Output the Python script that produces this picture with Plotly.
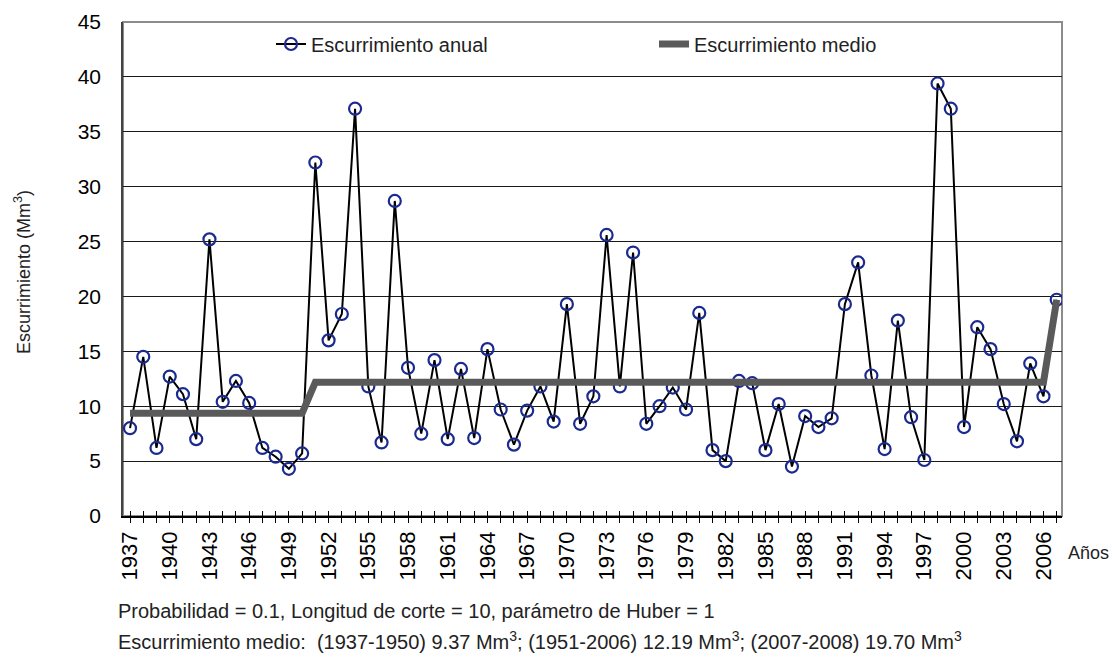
import plotly.graph_objects as go

# ---- data ----
years = list(range(1937, 2008))
escurrimiento_anual = [
    8.0, 14.5, 6.2, 12.7, 11.1, 7.0, 25.2, 10.4, 12.3, 10.3,   # 1937-1946
    6.2, 5.4, 4.3, 5.7, 32.2, 16.0, 18.4, 37.1, 11.8, 6.7,     # 1947-1956
    28.7, 13.5, 7.5, 14.2, 7.0, 13.4, 7.1, 15.2, 9.7, 6.5,     # 1957-1966
    9.6, 11.8, 8.6, 19.3, 8.4, 10.9, 25.6, 11.8, 24.0, 8.4,    # 1967-1976
    10.0, 11.7, 9.7, 18.5, 6.0, 5.0, 12.3, 12.1, 6.0, 10.2,    # 1977-1986
    4.5, 9.1, 8.1, 8.9, 19.3, 23.1, 12.8, 6.1, 17.8, 9.0,      # 1987-1996
    5.1, 39.4, 37.1, 8.1, 17.2, 15.2, 10.2, 6.8, 13.9, 10.9,   # 1997-2006
    19.7,                                                      # 2007
]
medio_years = [1937, 1950, 1951, 2006, 2007]
medio_values = [9.37, 9.37, 12.19, 12.19, 19.70]

y_ticks = [0, 5, 10, 15, 20, 25, 30, 35, 40, 45]

# ---- layout constants (screen px; body margin removed by post_script) ----
W, H = 1112, 658
PL, PR, PT, PB = 123, 1062, 22, 516          # plot area on screen
ML, MT = PL, PT
MR, MB = W - PR, H - PB
PW, PH = PR - PL, PB - PT

def px_x(px):
    return (px - PL) / PW

def px_y(py):
    return (PB - py) / PH

arial = "Liberation Sans, Arial, sans-serif"

fig = go.Figure()

fig.add_trace(go.Scatter(
    x=years, y=escurrimiento_anual, mode="lines+markers",
    name="Escurrimiento anual",
    line=dict(color="black", width=2),
    marker=dict(symbol="circle-open", size=12, color="#1a2a8e",
                line=dict(width=2.2, color="#1a2a8e")),
    xaxis="x", yaxis="y",
))
fig.add_trace(go.Scatter(
    x=medio_years, y=medio_values, mode="lines",
    name="Escurrimiento medio",
    line=dict(color="#5a5a5a", width=7),
    xaxis="x2", yaxis="y",
))

xr = [1936.47, 2007.4]

fig.update_layout(
    width=W, height=H,
    margin=dict(l=ML, r=MR, t=MT, b=MB, autoexpand=False),
    paper_bgcolor="white", plot_bgcolor="white",
    showlegend=True,
    legend=dict(orientation="h", x=px_x(271), y=px_y(44), xanchor="left",
                yanchor="middle", font=dict(family=arial, size=20, color="#222"),
                entrywidth=338, bgcolor="rgba(0,0,0,0)"),
    xaxis=dict(
        range=xr, tickmode="linear", tick0=1937, dtick=1, ticklabelstep=3,
        ticks="outside", ticklen=5, tickcolor="black", tickwidth=1,
        tickangle=-90, tickfont=dict(family=arial, size=22, color="black"),
        ticklabelstandoff=0, automargin=False,
        showgrid=False, zeroline=False,
        showline=True, linecolor="black", linewidth=1.5,
    ),
    xaxis2=dict(
        range=xr, overlaying="x", matches="x", anchor="y", side="bottom",
        tickmode="linear", tick0=1937, dtick=1, automargin=False,
        ticks="inside", ticklen=5, tickcolor="black", tickwidth=1,
        showticklabels=False, showgrid=False, zeroline=False, showline=False,
    ),
    yaxis=dict(
        range=[0, 45], tickmode="array", tickvals=y_ticks,
        ticktext=[str(v) for v in y_ticks],
        ticks="", tickfont=dict(family=arial, size=21, color="black"),
        ticklabelstandoff=16, automargin=False,
        showgrid=True, gridcolor="#1a1a1a", gridwidth=1,
        zeroline=False, showline=True, linecolor="#444", linewidth=1.5,
    ),
    shapes=[dict(type="rect", xref="paper", yref="paper", x0=0, x1=1, y0=0, y1=1,
                 line=dict(color="#8c8c8c", width=2), layer="below")],
    annotations=[
        dict(text="Escurrimiento (Mm<sup>3</sup>)", textangle=-90,
             xref="paper", yref="paper", x=px_x(22), y=px_y(272),
             xanchor="center", yanchor="middle",
             showarrow=False, font=dict(family=arial, size=18, color="#222")),
        dict(text="Años", xref="paper", yref="paper", x=px_x(1066), y=px_y(553),
             xanchor="left", yanchor="middle", showarrow=False,
             font=dict(family=arial, size=18, color="#222")),
        dict(text="Probabilidad = 0.1, Longitud de corte = 10, parámetro de Huber = 1",
             xref="paper", yref="paper", x=px_x(116), y=px_y(611),
             xanchor="left", yanchor="middle",
             showarrow=False, font=dict(family=arial, size=20, color="#222")),
        dict(text="Escurrimiento medio:  (1937-1950) 9.37 Mm<sup>3</sup>; (1951-2006) 12.19 Mm<sup>3</sup>; (2007-2008) 19.70 Mm<sup>3</sup>",
             xref="paper", yref="paper", x=px_x(116), y=px_y(640),
             xanchor="left", yanchor="middle",
             showarrow=False, font=dict(family=arial, size=20, color="#222")),
    ],
)

fig.write_html(
    "out.html",
    config={"displayModeBar": False},
    post_script=(
        "document.body.style.margin='0';"
        "document.body.style.overflow='hidden';"
        "document.documentElement.style.overflow='hidden';"
    ),
)
